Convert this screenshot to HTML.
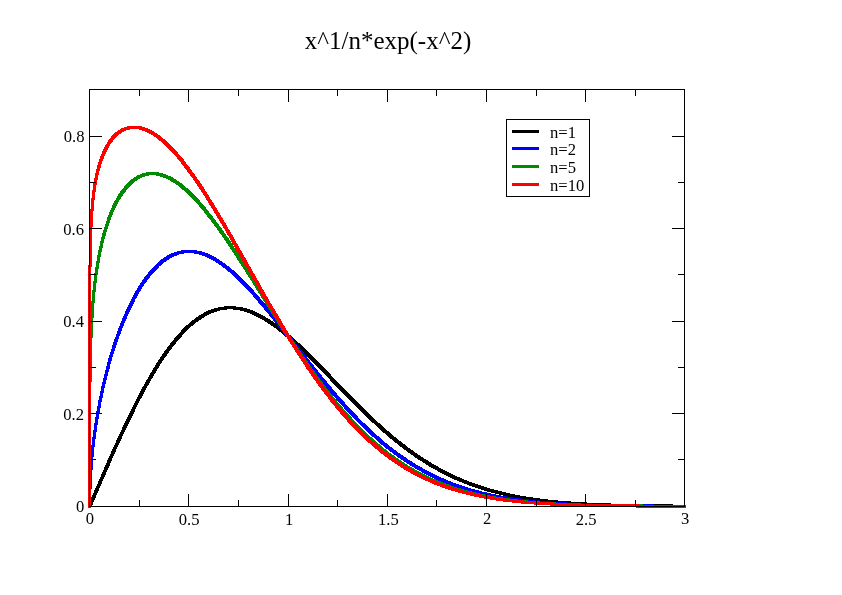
<!DOCTYPE html>
<html><head><meta charset="utf-8"><title>x^1/n*exp(-x^2)</title>
<style>
html,body{margin:0;padding:0;background:#fff;}
body{width:842px;height:595px;overflow:hidden;}
svg{display:block;}
text{font-family:"Liberation Serif",serif;fill:#000;}
.t{font-size:16.6px;}
.ttl{font-size:25px;}
</style></head><body>
<svg width="842" height="595" viewBox="0 0 842 595">
<rect x="0" y="0" width="842" height="595" fill="#ffffff"/>

<g stroke="none" fill-rule="evenodd" shape-rendering="crispEdges">
<path fill="#000000" d="M117 449v-2h1v-2h1v-2h1v-2h1v-2h1v-3h1v-2h1v-2h1v-2h1v-2h1v-2h1v-2h1v-2h1v-2h1v-2h1v-2h1v-2h1v-2h1v-3h1v-2h1v-2h1v-2h1v-2h1v-2h1v-1h1v-2h1v-2h1v-2h1v-2h1v-2h1v-2h1v-1h1v-2h1v-2h1v-2h1v-1h1v-2h1v-2h1v-1h1v-2h1v-2h1v-1h1v-2h1v-2h1v-1h1v-2h1v-1h1v-2h1v-1h1v-1h1v-2h1v-1h1v-2h1v-1h1v-1h1v-2h1v-1h1v-1h1v-1h1v-2h1v-1h1v-1h1v-1h1v-1h1v-1h1v-2h1v-1h1v-1h1v-1h1v-1h1v-1h1v-1h1v-1h1v-1h1v-1h2v-1h1v-1h1v-1h1v-1h2v-1h1v-1h2v-1h1v-1h2v-1h1v-1h2v-1h2v-1h2v-1h3v-1h3v-1h3v-1h7v-1h6v1h7v1h4v1h3v1h3v1h2v1h2v1h2v1h2v1h2v1h2v1h2v1h1v1h2v1h1v1h2v1h1v1h2v1h1v1h2v1h1v1h1v1h1v1h2v1h1v1h1v1h1v1h1v1h2v1h1v1h1v1h1v1h1v1h1v1h1v1h2v1h1v1h1v1h1v1h1v1h1v1h1v1h1v1h1v1h1v1h1v1h1v1h1v1h1v1h1v1h1v1h1v1h1v1h1v1h1v1h1v1h1v1h1v1h1v1h1v1h1v1h1v1h1v1h1v1h1v1h1v1h1v1h1v1h1v1h1v1h1v2h1v1h1v1h1v1h1v1h1v1h1v1h1v1h1v1h1v1h1v1h1v1h1v1h1v1h1v1h1v1h1v1h1v1h1v1h1v1h1v1h1v1h1v1h1v1h1v1h1v1h1v1h1v1h1v1h1v1h1v1h1v1h1v1h1v1h1v1h1v1h1v1h1v1h1v1h1v1h1v1h1v1h1v1h2v1h1v1h1v1h1v1h1v1h1v1h1v1h1v1h1v1h1v1h2v1h1v1h1v1h1v1h1v1h1v1h2v1h1v1h1v1h1v1h2v1h1v1h1v1h1v1h2v1h1v1h1v1h2v1h1v1h1v1h2v1h1v1h2v1h1v1h1v1h2v1h1v1h2v1h2v1h1v1h2v1h1v1h2v1h1v1h2v1h2v1h2v1h2v1h1v1h2v1h2v1h2v1h2v1h2v1h2v1h2v1h2v1h3v1h2v1h3v1h2v1h3v1h2v1h3v1h3v1h3v1h3v1h3v1h3v1h4v1h4v1h4v1h4v1h4v1h5v1h6v1h6v1h6v1h7v1h9v1h9v1h13v1h16v1h24v1h62v1h16v-3h-13v-1h-62v-1h-24v-1h-16v-1h-13v-1h-10v-1h-8v-1h-7v-1h-7v-1h-6v-1h-5v-1h-5v-1h-4v-1h-4v-1h-4v-1h-4v-1h-4v-1h-3v-1h-3v-1h-3v-1h-3v-1h-3v-1h-3v-1h-3v-1h-2v-1h-3v-1h-2v-1h-2v-1h-3v-1h-2v-1h-2v-1h-2v-1h-2v-1h-2v-1h-2v-1h-2v-1h-2v-1h-2v-1h-1v-1h-2v-1h-2v-1h-2v-1h-1v-1h-2v-1h-1v-1h-2v-1h-2v-1h-1v-1h-2v-1h-1v-1h-2v-1h-1v-1h-2v-1h-1v-1h-1v-1h-2v-1h-1v-1h-2v-1h-1v-1h-1v-1h-1v-1h-2v-1h-1v-1h-1v-1h-2v-1h-1v-1h-1v-1h-1v-1h-2v-1h-1v-1h-1v-1h-1v-1h-1v-1h-1v-1h-2v-1h-1v-1h-1v-1h-1v-1h-1v-1h-1v-1h-1v-1h-1v-1h-2v-1h-1v-1h-1v-1h-1v-1h-1v-1h-1v-1h-1v-1h-1v-1h-1v-1h-1v-1h-1v-1h-1v-1h-1v-1h-1v-1h-1v-1h-1v-1h-1v-1h-1v-1h-1v-1h-1v-1h-1v-1h-1v-1h-1v-1h-1v-1h-1v-1h-1v-1h-1v-1h-1v-1h-1v-1h-1v-1h-1v-1h-1v-1h-1v-1h-1v-1h-1v-1h-1v-1h-1v-1h-1v-1h-1v-1h-1v-1h-1v-1h-1v-1h-1v-1h-1v-1h-1v-1h-1v-1h-1v-1h-1v-2h-1v-1h-1v-1h-1v-1h-1v-1h-1v-1h-1v-1h-1v-1h-1v-1h-1v-1h-1v-1h-1v-1h-1v-1h-1v-1h-1v-1h-1v-1h-1v-1h-1v-1h-1v-1h-1v-1h-1v-1h-1v-1h-1v-1h-1v-1h-1v-1h-1v-1h-1v-1h-1v-1h-1v-1h-1v-1h-1v-1h-1v-1h-2v-1h-1v-1h-1v-1h-1v-1h-1v-1h-1v-1h-1v-1h-1v-1h-2v-1h-1v-1h-1v-1h-1v-1h-1v-1h-2v-1h-1v-1h-1v-1h-1v-1h-2v-1h-1v-1h-1v-1h-2v-1h-1v-1h-2v-1h-1v-1h-2v-1h-2v-1h-1v-1h-2v-1h-2v-1h-2v-1h-2v-1h-2v-1h-2v-1h-3v-1h-3v-1h-4v-1h-7v-1h-12v1h-6v1h-4v1h-3v1h-3v1h-2v1h-2v1h-1v1h-2v1h-2v1h-1v1h-2v1h-1v1h-1v1h-2v1h-1v1h-1v1h-1v1h-1v1h-2v1h-1v1h-1v1h-1v1h-1v1h-1v2h-1v1h-1v1h-1v1h-1v1h-1v1h-1v1h-1v2h-1v1h-1v1h-1v1h-1v2h-1v1h-1v1h-1v2h-1v1h-1v1h-1v2h-1v1h-1v2h-1v1h-1v2h-1v1h-1v2h-1v1h-1v2h-1v2h-1v1h-1v2h-1v2h-1v1h-1v2h-1v2h-1v2h-1v1h-1v2h-1v2h-1v2h-1v1h-1v2h-1v2h-1v2h-1v2h-1v2h-1v2h-1v2h-1v2h-1v2h-1v2h-1v2h-1v2h-1v2h-1v2h-1v2h-1v2h-1v2h-1v2h-1v2h-1v2h-1v3h-1v2h-1v2h-1v2h-1v2h-1v2h-1v3h-1v2h-1v2h-1v2h-1v2h-1v3h-1v2h-1v2h-1v2h-1v3h-1v2h-1v2h-1v3h-1v2h-1v2h-1v3h-1v2h-1v2h-1v3h-1v2h-1v2h-1v2h-1v3h-1v2h-1v2h-1v3h-1v2h-1v2h-1v4h3v-1h1v-2h1v-3h1v-2h1v-2h1v-3h1v-2h1v-2h1v-3h1v-2h1v-2h1v-3h1v-2h1v-2h1v-2h1v-3h1v-2h1v-2h1v-2h1v-3h1v-2h1v-3h1v-2h1v-2h1v-2h1v-3z"/>
<path fill="#0000ff" d="M91 455h-1v13h-1v19h-1v21h3v-19h1v-19h1v-13h1v-10h1v-8h1v-7h1v-7h1v-6h1v-6h1v-5h1v-6h1v-4h1v-5h1v-5h1v-4h1v-4h1v-4h1v-4h1v-3h1v-5h1v-3h1v-4h1v-3h1v-3h1v-3h1v-3h1v-3h1v-3h1v-3h1v-2h1v-3h1v-3h1v-2h1v-3h1v-2h1v-2h1v-3h1v-2h1v-2h1v-2h1v-2h1v-2h1v-2h1v-2h1v-3h1v-1h1v-2h1v-2h1v-2h1v-1h1v-2h1v-2h1v-1h1v-2h1v-1h1v-1h1v-2h1v-1h1v-1h1v-2h1v-1h1v-1h1v-1h1v-1h1v-1h1v-1h1v-1h1v-1h1v-2h2v-1h1v-1h1v-1h1v-1h2v-1h1v-1h2v-1h1v-1h2v-1h2v-1h3v-1h2v-1h5v-1h10v1h5v1h3v1h3v1h2v1h2v1h2v1h2v1h2v1h1v1h2v1h1v1h2v1h1v1h1v1h2v1h1v1h1v1h1v1h2v1h1v1h1v1h1v1h1v1h1v1h1v1h1v1h1v1h1v1h1v1h1v1h1v1h1v1h1v1h1v1h1v1h1v1h1v1h1v1h1v1h1v1h1v1h1v2h1v1h1v1h1v1h1v1h1v2h1v1h1v1h1v1h1v1h1v1h1v2h1v1h1v1h1v1h1v1h1v2h1v1h1v1h1v1h1v2h1v1h1v1h1v1h1v2h1v1h1v1h1v2h1v1h1v1h1v2h1v1h1v1h1v1h1v2h1v1h1v1h1v1h1v2h1v1h1v1h1v2h1v1h1v1h1v1h1v2h1v1h1v1h1v2h1v1h1v1h1v1h1v2h1v1h1v1h1v2h1v1h1v1h1v1h1v2h1v1h1v1h1v1h1v2h1v1h1v1h1v1h1v2h1v1h1v1h1v1h1v1h1v2h1v1h1v1h1v1h1v1h1v2h1v1h1v1h1v1h1v1h1v1h1v2h1v1h1v1h1v1h1v1h1v1h1v1h1v1h1v2h1v1h1v1h1v1h1v1h1v1h1v1h1v1h1v1h1v1h1v1h1v1h1v1h1v1h1v1h1v1h1v1h1v1h1v1h1v1h1v1h1v1h1v1h1v1h1v1h1v1h1v1h1v1h1v1h2v1h1v1h1v1h1v1h1v1h1v1h1v1h1v1h2v1h1v1h1v1h1v1h2v1h1v1h1v1h2v1h1v1h1v1h2v1h1v1h1v1h2v1h1v1h2v1h1v1h2v1h1v1h2v1h1v1h2v1h2v1h1v1h2v1h2v1h2v1h1v1h2v1h2v1h2v1h2v1h2v1h2v1h2v1h2v1h3v1h2v1h3v1h2v1h3v1h2v1h3v1h3v1h3v1h3v1h4v1h3v1h4v1h4v1h4v1h4v1h5v1h6v1h5v1h7v1h7v1h8v1h10v1h12v1h17v1h24v1h62v1h35v-3h-32v-1h-62v-1h-25v-1h-16v-1h-12v-1h-10v-1h-8v-1h-8v-1h-6v-1h-6v-1h-5v-1h-5v-1h-4v-1h-5v-1h-3v-1h-4v-1h-4v-1h-3v-1h-3v-1h-3v-1h-3v-1h-3v-1h-3v-1h-2v-1h-3v-1h-2v-1h-2v-1h-3v-1h-2v-1h-2v-1h-2v-1h-2v-1h-2v-1h-2v-1h-2v-1h-2v-1h-2v-1h-1v-1h-2v-1h-2v-1h-2v-1h-1v-1h-2v-1h-1v-1h-2v-1h-2v-1h-1v-1h-1v-1h-2v-1h-1v-1h-2v-1h-1v-1h-2v-1h-1v-1h-1v-1h-2v-1h-1v-1h-1v-1h-2v-1h-1v-1h-1v-1h-1v-1h-2v-1h-1v-1h-1v-1h-1v-1h-1v-1h-1v-1h-1v-1h-2v-1h-1v-1h-1v-1h-1v-1h-1v-1h-1v-1h-1v-1h-1v-1h-1v-1h-1v-1h-1v-1h-1v-1h-1v-1h-2v-1h-1v-1h-1v-1h-1v-1h-1v-1h-1v-2h-1v-1h-1v-1h-1v-1h-1v-1h-1v-1h-1v-1h-1v-1h-1v-1h-1v-1h-1v-1h-1v-1h-1v-1h-1v-2h-1v-1h-1v-1h-1v-1h-1v-1h-1v-1h-1v-1h-1v-1h-1v-2h-1v-1h-1v-1h-1v-1h-1v-1h-1v-2h-1v-1h-1v-1h-1v-1h-1v-1h-1v-2h-1v-1h-1v-1h-1v-1h-1v-1h-1v-2h-1v-1h-1v-1h-1v-1h-1v-2h-1v-1h-1v-1h-1v-1h-1v-2h-1v-1h-1v-1h-1v-1h-1v-2h-1v-1h-1v-1h-1v-2h-1v-1h-1v-1h-1v-2h-1v-1h-1v-1h-1v-1h-1v-2h-1v-1h-1v-1h-1v-1h-1v-2h-1v-1h-1v-1h-1v-2h-1v-1h-1v-1h-1v-1h-1v-2h-1v-1h-1v-1h-1v-2h-1v-1h-1v-1h-1v-2h-1v-1h-1v-1h-1v-1h-1v-2h-1v-1h-1v-1h-1v-1h-1v-2h-1v-1h-1v-1h-1v-1h-1v-2h-1v-1h-1v-1h-1v-1h-1v-1h-1v-2h-1v-1h-1v-1h-1v-1h-1v-1h-1v-1h-1v-2h-1v-1h-1v-1h-1v-1h-1v-1h-1v-1h-1v-2h-1v-1h-1v-1h-1v-1h-1v-1h-1v-1h-1v-1h-1v-1h-1v-1h-1v-1h-1v-1h-1v-1h-1v-1h-1v-1h-1v-1h-1v-1h-1v-1h-1v-1h-1v-1h-1v-1h-1v-1h-2v-1h-1v-1h-1v-1h-1v-1h-2v-1h-1v-1h-1v-1h-2v-1h-1v-1h-2v-1h-1v-1h-2v-1h-1v-1h-2v-1h-2v-1h-2v-1h-2v-1h-3v-1h-3v-1h-5v-1h-16v1h-4v1h-3v1h-3v1h-2v1h-2v1h-1v1h-2v1h-1v1h-2v1h-1v1h-1v1h-1v1h-1v1h-1v1h-1v1h-1v1h-1v1h-1v1h-1v1h-1v1h-1v1h-1v2h-1v1h-1v1h-1v1h-1v2h-1v1h-1v2h-1v1h-1v2h-1v1h-1v2h-1v2h-1v1h-1v2h-1v2h-1v2h-1v2h-1v2h-1v2h-1v2h-1v2h-1v2h-1v2h-1v3h-1v2h-1v2h-1v3h-1v2h-1v3h-1v2h-1v3h-1v3h-1v3h-1v2h-1v3h-1v3h-1v4h-1v3h-1v3h-1v3h-1v4h-1v4h-1v4h-1v4h-1v4h-1v4h-1v4h-1v5h-1v5h-1v4h-1v6h-1v5h-1v6h-1v6h-1v7h-1v7h-1v8h-1z"/>
<path fill="#008b00" d="M88 508h3v-126h1v-44h1v-20h1v-15h1v-11h1v-9h1v-8h1v-6h1v-6h1v-6h1v-5h1v-4h1v-5h1v-4h1v-3h1v-4h1v-3h1v-3h1v-3h1v-3h1v-3h1v-2h1v-3h1v-2h1v-2h1v-2h1v-2h1v-2h1v-2h1v-1h1v-2h1v-1h1v-2h1v-1h1v-1h1v-2h1v-1h1v-1h1v-1h1v-1h1v-1h1v-1h1v-1h1v-1h1v-1h2v-1h1v-1h2v-1h2v-1h3v-1h4v-1h7v1h4v1h3v1h3v1h2v1h2v1h1v1h2v1h2v1h1v1h2v1h1v1h1v1h1v1h1v1h2v1h1v1h1v1h1v1h1v1h1v1h1v1h1v1h1v1h1v1h1v1h1v1h1v1h1v1h1v1h1v2h1v1h1v1h1v1h1v1h1v2h1v1h1v1h1v2h1v1h1v1h1v1h1v2h1v1h1v1h1v2h1v1h1v1h1v2h1v1h1v2h1v1h1v1h1v2h1v1h1v2h1v1h1v2h1v1h1v2h1v1h1v2h1v1h1v2h1v1h1v2h1v1h1v2h1v2h1v1h1v2h1v1h1v2h1v1h1v2h1v1h1v2h1v2h1v1h1v2h1v1h1v2h1v1h1v2h1v2h1v1h1v2h1v2h1v1h1v2h1v1h1v2h1v2h1v1h1v2h1v1h1v2h1v2h1v1h1v2h1v1h1v2h1v2h1v1h1v2h1v1h1v2h1v1h1v2h1v2h1v1h1v2h1v2h1v1h1v2h1v1h1v2h1v1h1v2h1v1h1v2h1v1h1v2h1v1h1v2h1v1h1v2h1v1h1v2h1v1h1v2h1v1h1v2h1v1h1v2h1v1h1v2h1v1h1v2h1v1h1v1h1v2h1v1h1v2h1v1h1v1h1v2h1v1h1v1h1v2h1v1h1v1h1v2h1v1h1v1h1v2h1v1h1v1h1v1h1v2h1v1h1v1h1v2h1v1h1v1h1v1h1v1h1v2h1v1h1v1h1v1h1v1h1v1h1v2h1v1h1v1h1v1h1v1h1v1h1v1h1v1h1v1h1v1h1v2h1v1h1v1h1v1h1v1h1v1h1v1h1v1h1v1h1v1h1v1h1v1h1v1h1v1h2v1h1v1h1v1h1v1h1v1h1v1h1v1h1v1h2v1h1v1h1v1h1v1h1v1h1v1h2v1h1v1h1v1h2v1h1v1h1v1h2v1h1v1h2v1h1v1h1v1h2v1h2v1h1v1h2v1h1v1h2v1h1v1h2v1h2v1h2v1h1v1h2v1h2v1h2v1h2v1h2v1h2v1h3v1h2v1h2v1h2v1h3v1h2v1h3v1h3v1h3v1h3v1h3v1h3v1h3v1h4v1h4v1h4v1h5v1h4v1h6v1h5v1h7v1h7v1h8v1h10v1h12v1h16v1h25v1h62v1h46v-3h-43v-1h-62v-1h-25v-1h-16v-1h-12v-1h-10v-1h-8v-1h-7v-1h-7v-1h-6v-1h-5v-1h-5v-1h-4v-1h-4v-1h-4v-1h-4v-1h-3v-1h-4v-1h-3v-1h-3v-1h-2v-1h-3v-1h-3v-1h-2v-1h-3v-1h-2v-1h-3v-1h-2v-1h-2v-1h-2v-1h-2v-1h-2v-1h-2v-1h-2v-1h-2v-1h-2v-1h-1v-1h-2v-1h-2v-1h-2v-1h-1v-1h-2v-1h-1v-1h-2v-1h-1v-1h-2v-1h-1v-1h-2v-1h-1v-1h-1v-1h-2v-1h-1v-1h-2v-1h-1v-1h-1v-1h-1v-1h-2v-1h-1v-1h-1v-1h-1v-1h-1v-1h-2v-1h-1v-1h-1v-1h-1v-1h-1v-1h-1v-1h-1v-1h-2v-1h-1v-1h-1v-1h-1v-1h-1v-1h-1v-1h-1v-1h-1v-1h-1v-1h-1v-1h-1v-1h-1v-1h-1v-1h-1v-1h-1v-1h-1v-1h-1v-1h-1v-1h-1v-2h-1v-1h-1v-1h-1v-1h-1v-1h-1v-1h-1v-1h-1v-1h-1v-1h-1v-2h-1v-1h-1v-1h-1v-1h-1v-1h-1v-1h-1v-2h-1v-1h-1v-1h-1v-1h-1v-2h-1v-1h-1v-1h-1v-2h-1v-1h-1v-1h-1v-1h-1v-2h-1v-1h-1v-1h-1v-2h-1v-1h-1v-1h-1v-2h-1v-1h-1v-1h-1v-2h-1v-1h-1v-2h-1v-1h-1v-1h-1v-2h-1v-1h-1v-2h-1v-1h-1v-2h-1v-1h-1v-2h-1v-1h-1v-1h-1v-2h-1v-1h-1v-2h-1v-1h-1v-2h-1v-1h-1v-2h-1v-1h-1v-2h-1v-1h-1v-2h-1v-1h-1v-2h-1v-1h-1v-2h-1v-1h-1v-2h-1v-2h-1v-1h-1v-2h-1v-2h-1v-1h-1v-2h-1v-1h-1v-2h-1v-1h-1v-2h-1v-2h-1v-1h-1v-2h-1v-1h-1v-2h-1v-1h-1v-2h-1v-2h-1v-1h-1v-2h-1v-1h-1v-2h-1v-2h-1v-1h-1v-2h-1v-1h-1v-2h-1v-2h-1v-1h-1v-2h-1v-2h-1v-1h-1v-2h-1v-1h-1v-2h-1v-2h-1v-1h-1v-2h-1v-1h-1v-2h-1v-1h-1v-2h-1v-2h-1v-1h-1v-2h-1v-1h-1v-2h-1v-1h-1v-2h-1v-1h-1v-2h-1v-1h-1v-2h-1v-2h-1v-1h-1v-2h-1v-1h-1v-2h-1v-1h-1v-1h-1v-2h-1v-1h-1v-2h-1v-1h-1v-2h-1v-1h-1v-1h-1v-2h-1v-1h-1v-1h-1v-2h-1v-1h-1v-1h-1v-2h-1v-1h-1v-1h-1v-1h-1v-2h-1v-1h-1v-1h-1v-2h-1v-1h-1v-1h-1v-1h-1v-1h-1v-1h-1v-2h-1v-1h-1v-1h-1v-1h-1v-1h-1v-1h-1v-1h-1v-1h-1v-1h-1v-1h-1v-1h-1v-1h-1v-1h-2v-1h-1v-1h-1v-1h-1v-1h-1v-1h-2v-1h-1v-1h-2v-1h-1v-1h-2v-1h-1v-1h-2v-1h-3v-1h-2v-1h-3v-1h-4v-1h-13v1h-4v1h-2v1h-3v1h-1v1h-2v1h-1v1h-2v1h-1v1h-1v1h-1v1h-1v1h-1v1h-1v1h-1v2h-1v1h-1v1h-1v1h-1v2h-1v1h-1v2h-1v2h-1v2h-1v1h-1v2h-1v2h-1v3h-1v2h-1v2h-1v3h-1v2h-1v4h-1v3h-1v3h-1v3h-1v3h-1v4h-1v4h-1v5h-1v4h-1v5h-1v6h-1v6h-1v6h-1v8h-1v9h-1v11h-1v15h-1v20h-1v44h-1z"/>
<path fill="#ff0000" d="M88 508h3v-241h1v-40h1v-16h1v-11h1v-8h1v-7h1v-5h1v-5h1v-4h1v-3h1v-4h1v-3h1v-2h1v-3h1v-2h1v-2h1v-2h1v-2h1v-2h1v-2h1v-1h1v-1h1v-2h1v-1h1v-1h1v-1h1v-1h1v-1h1v-1h2v-1h1v-1h2v-1h2v-1h4v-1h9v1h3v1h3v1h2v1h2v1h2v1h2v1h1v1h2v1h1v1h1v1h1v1h2v1h1v1h1v1h1v1h1v1h1v1h1v1h1v1h1v1h1v1h1v1h1v1h1v1h1v1h1v1h1v1h1v2h1v1h1v1h1v1h1v2h1v1h1v1h1v2h1v1h1v1h1v2h1v1h1v1h1v2h1v1h1v1h1v2h1v1h1v2h1v1h1v2h1v1h1v2h1v1h1v2h1v1h1v2h1v1h1v2h1v2h1v1h1v2h1v2h1v1h1v2h1v1h1v2h1v2h1v1h1v2h1v2h1v1h1v2h1v2h1v1h1v2h1v2h1v1h1v2h1v2h1v2h1v1h1v2h1v2h1v2h1v2h1v1h1v2h1v2h1v2h1v1h1v2h1v2h1v2h1v1h1v2h1v2h1v2h1v1h1v2h1v2h1v2h1v1h1v2h1v2h1v2h1v1h1v2h1v2h1v2h1v2h1v2h1v1h1v2h1v2h1v2h1v1h1v2h1v2h1v1h1v2h1v2h1v2h1v1h1v2h1v2h1v1h1v2h1v2h1v1h1v2h1v2h1v1h1v2h1v2h1v2h1v1h1v2h1v2h1v1h1v2h1v2h1v1h1v2h1v1h1v2h1v1h1v2h1v2h1v1h1v2h1v1h1v2h1v1h1v2h1v1h1v2h1v1h1v2h1v2h1v1h1v1h1v2h1v1h1v2h1v1h1v2h1v1h1v1h1v2h1v1h1v2h1v1h1v1h1v2h1v1h1v1h1v2h1v1h1v1h1v1h1v2h1v1h1v2h1v1h1v1h1v1h1v1h1v2h1v1h1v1h1v1h1v1h1v2h1v1h1v1h1v1h1v1h1v1h1v1h1v2h1v1h1v1h1v1h1v1h1v1h1v1h1v1h1v1h1v1h1v1h1v1h1v1h1v1h1v1h1v1h1v1h1v1h1v1h1v1h1v1h1v1h2v1h1v1h1v1h1v1h1v1h1v1h2v1h1v1h1v1h1v1h1v1h2v1h1v1h1v1h2v1h1v1h1v1h2v1h1v1h2v1h1v1h2v1h1v1h2v1h1v1h2v1h1v1h2v1h2v1h2v1h1v1h2v1h2v1h2v1h2v1h2v1h2v1h2v1h3v1h2v1h2v1h2v1h3v1h3v1h2v1h3v1h3v1h3v1h4v1h3v1h4v1h4v1h4v1h4v1h5v1h5v1h6v1h6v1h7v1h9v1h9v1h13v1h16v1h24v1h62v1h50v-3h-47v-1h-62v-1h-24v-1h-17v-1h-12v-1h-10v-1h-8v-1h-7v-1h-6v-1h-6v-1h-5v-1h-5v-1h-4v-1h-5v-1h-4v-1h-3v-1h-4v-1h-3v-1h-3v-1h-3v-1h-3v-1h-3v-1h-2v-1h-3v-1h-2v-1h-3v-1h-2v-1h-2v-1h-2v-1h-2v-1h-2v-1h-2v-1h-2v-1h-2v-1h-2v-1h-2v-1h-1v-1h-2v-1h-2v-1h-1v-1h-2v-1h-2v-1h-1v-1h-2v-1h-1v-1h-2v-1h-1v-1h-2v-1h-1v-1h-1v-1h-2v-1h-1v-1h-1v-1h-2v-1h-1v-1h-1v-1h-1v-1h-1v-1h-2v-1h-1v-1h-1v-1h-1v-1h-1v-1h-2v-1h-1v-1h-1v-1h-1v-1h-1v-1h-1v-1h-1v-1h-1v-1h-1v-1h-1v-1h-1v-1h-1v-1h-1v-1h-1v-1h-1v-1h-1v-1h-1v-1h-1v-1h-1v-1h-1v-1h-1v-1h-1v-1h-1v-1h-1v-1h-1v-1h-1v-2h-1v-1h-1v-1h-1v-1h-1v-1h-1v-1h-1v-1h-1v-2h-1v-1h-1v-1h-1v-1h-1v-1h-1v-2h-1v-1h-1v-1h-1v-2h-1v-1h-1v-1h-1v-2h-1v-1h-1v-1h-1v-1h-1v-2h-1v-1h-1v-1h-1v-2h-1v-1h-1v-2h-1v-1h-1v-1h-1v-2h-1v-1h-1v-2h-1v-1h-1v-1h-1v-2h-1v-1h-1v-2h-1v-1h-1v-2h-1v-1h-1v-2h-1v-1h-1v-2h-1v-1h-1v-2h-1v-1h-1v-2h-1v-2h-1v-1h-1v-2h-1v-1h-1v-2h-1v-1h-1v-2h-1v-2h-1v-1h-1v-2h-1v-1h-1v-2h-1v-2h-1v-1h-1v-2h-1v-2h-1v-1h-1v-2h-1v-2h-1v-2h-1v-1h-1v-2h-1v-2h-1v-1h-1v-2h-1v-2h-1v-1h-1v-2h-1v-2h-1v-1h-1v-2h-1v-2h-1v-2h-1v-1h-1v-2h-1v-2h-1v-2h-1v-1h-1v-2h-1v-2h-1v-2h-1v-2h-1v-1h-1v-2h-1v-2h-1v-2h-1v-1h-1v-2h-1v-2h-1v-2h-1v-1h-1v-2h-1v-2h-1v-2h-1v-2h-1v-1h-1v-2h-1v-2h-1v-2h-1v-1h-1v-2h-1v-2h-1v-2h-1v-1h-1v-2h-1v-2h-1v-2h-1v-2h-1v-1h-1v-2h-1v-2h-1v-1h-1v-2h-1v-2h-1v-2h-1v-1h-1v-2h-1v-2h-1v-1h-1v-2h-1v-2h-1v-1h-1v-2h-1v-2h-1v-1h-1v-2h-1v-2h-1v-1h-1v-2h-1v-1h-1v-2h-1v-2h-1v-1h-1v-2h-1v-1h-1v-2h-1v-2h-1v-1h-1v-2h-1v-1h-1v-2h-1v-1h-1v-1h-1v-2h-1v-1h-1v-2h-1v-1h-1v-1h-1v-2h-1v-1h-1v-2h-1v-1h-1v-1h-1v-1h-1v-2h-1v-1h-1v-2h-1v-1h-1v-1h-1v-1h-1v-1h-1v-1h-1v-2h-1v-1h-1v-1h-1v-1h-1v-1h-1v-1h-1v-1h-1v-1h-1v-1h-1v-1h-1v-1h-1v-1h-1v-1h-1v-1h-2v-1h-1v-1h-1v-1h-1v-1h-2v-1h-1v-1h-2v-1h-1v-1h-2v-1h-2v-1h-2v-1h-3v-1h-3v-1h-15v1h-3v1h-3v1h-1v1h-2v1h-1v1h-2v1h-1v1h-1v1h-1v1h-1v2h-1v1h-1v1h-1v2h-1v2h-1v1h-1v2h-1v2h-1v2h-1v3h-1v2h-1v3h-1v3h-1v3h-1v4h-1v4h-1v5h-1v5h-1v7h-1v8h-1v11h-1v16h-1v40h-1z"/>
</g>
<g stroke="#000" stroke-width="1" fill="none" shape-rendering="crispEdges">
<rect x="89.5" y="89.5" width="595" height="417"/>
<path d="M89.5 507V494 M89.5 89V102"/>
<path d="M139.5 507V500 M139.5 89V96"/>
<path d="M188.5 507V494 M188.5 89V102"/>
<path d="M238.5 507V500 M238.5 89V96"/>
<path d="M288.5 507V494 M288.5 89V102"/>
<path d="M337.5 507V500 M337.5 89V96"/>
<path d="M387.5 507V494 M387.5 89V102"/>
<path d="M436.5 507V500 M436.5 89V96"/>
<path d="M486.5 507V494 M486.5 89V102"/>
<path d="M536.5 507V500 M536.5 89V96"/>
<path d="M585.5 507V494 M585.5 89V102"/>
<path d="M635.5 507V500 M635.5 89V96"/>
<path d="M684.5 507V494 M684.5 89V102"/>
<path d="M89 506.5H102 M685 506.5H672"/>
<path d="M89 459.5H96 M685 459.5H678"/>
<path d="M89 413.5H102 M685 413.5H672"/>
<path d="M89 367.5H96 M685 367.5H678"/>
<path d="M89 321.5H102 M685 321.5H672"/>
<path d="M89 274.5H96 M685 274.5H678"/>
<path d="M89 228.5H102 M685 228.5H672"/>
<path d="M89 182.5H96 M685 182.5H678"/>
<path d="M89 136.5H102 M685 136.5H672"/>
<path d="M89 89.5H96 M685 89.5H678"/>
</g>
<g class="t" text-anchor="middle">
<text x="89.8" y="524">0</text>
<text x="189.1" y="525">0.5</text>
<text x="289.2" y="525">1</text>
<text x="388.4" y="525">1.5</text>
<text x="487.1" y="524">2</text>
<text x="586.2" y="525">2.5</text>
<text x="685.1" y="524">3</text>
</g>
<g class="t" text-anchor="end">
<text x="84.2" y="511.8">0</text>
<text x="84.0" y="419.8">0.2</text>
<text x="84.0" y="326.8">0.4</text>
<text x="84.0" y="234.8">0.6</text>
<text x="84.5" y="141.8">0.8</text>
</g>
<text class="ttl" text-anchor="middle" x="388" y="49">x^1/n*exp(-x^2)</text>
<rect x="506.5" y="119.5" width="83" height="77" fill="#fff" stroke="#000" stroke-width="1" shape-rendering="crispEdges"/>
<g shape-rendering="crispEdges" stroke-width="3" fill="none">
<path stroke="#000000" d="M512 131.5H539"/>
<path stroke="#0000ff" d="M512 148.5H539"/>
<path stroke="#008b00" d="M512 166.5H539"/>
<path stroke="#ff0000" d="M512 184.5H539"/>
</g>
<g class="t">
<text x="550" y="137.7">n=1</text>
<text x="550" y="155.4">n=2</text>
<text x="550" y="173.0">n=5</text>
<text x="550" y="190.7">n=10</text>
</g>
</svg></body></html>
